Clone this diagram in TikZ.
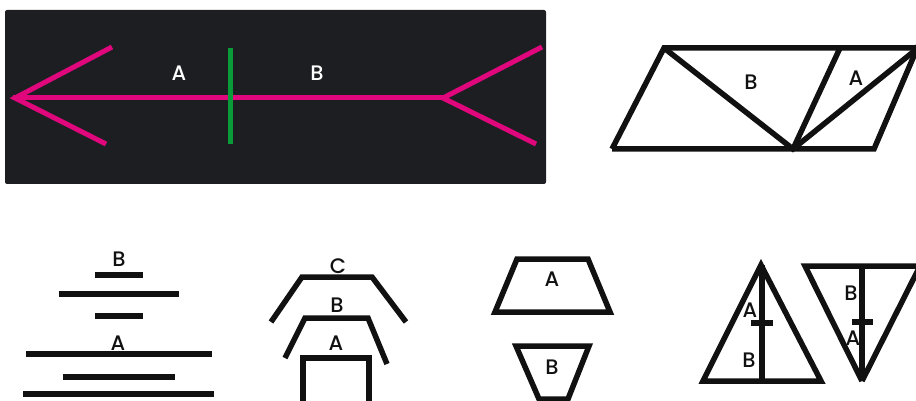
\documentclass[tikz,border=0pt]{standalone}
\usepackage{fontspec}
\setmainfont{Poppins}[UprightFont=* Medium]
\definecolor{darkbg}{HTML}{1D1E22}
\definecolor{pinkline}{HTML}{E0077D}
\definecolor{greenline}{HTML}{0A9A3A}
\definecolor{inkblack}{HTML}{111111}
\begin{document}
\begin{tikzpicture}[x=1pt,y=-1pt,
  shape line/.style={draw=inkblack,line width=5.5pt,line join=miter},
  pink line/.style={draw=pinkline,line width=5pt},
  lbl/.style={font=\fontsize{21}{21}\selectfont,text=inkblack,inner sep=0pt},
  wlbl/.style={lbl,text=white}]
\useasboundingbox (0,0) rectangle (916,401);
% panel 1
\fill[darkbg,rounded corners=2pt] (5,10) rectangle (546,184);
\draw[pink line] (13,98) -- (443,98);
\draw[pink line,line join=miter] (112,47) -- (15,98) -- (106,144);
\draw[pink line,line join=miter] (542,47) -- (443,98) -- (536,144);
\draw[draw=greenline,line width=5pt] (230,48) -- (230,144);
\node[wlbl] (p1a) at (179,73) {A};
\node[wlbl] (p1b) at (317,73) {B};
% panel 2
\draw[shape line] (612,149) -- (664,48) -- (922,48);
\draw[shape line] (612,149) -- (874,149) -- (919,44);
\draw[shape line] (664,48) -- (793,149) -- (918,48);
\draw[shape line] (840,48) -- (793,149);
\node[lbl] (p2b) at (751,82) {B};
\node[lbl] (p2a) at (856,78) {A};
% panel 3
\draw[shape line] (95,275) -- (143,275);
\draw[shape line] (59,294) -- (179,294);
\draw[shape line] (95,316) -- (143,316);
\draw[shape line] (26,354) -- (212,354);
\draw[shape line] (63,377) -- (175,377);
\draw[shape line] (23,394) -- (214,394);
\node[lbl] (p3b) at (119,259) {B};
\node[lbl] (p3a) at (118,343) {A};
% panel 4
\draw[shape line] (271,322) -- (302,277) -- (372,277) -- (406,322);
\draw[shape line] (285,358) -- (305,318) -- (368,318) -- (387,364);
\draw[shape line] (303,402) -- (303,358) -- (369,358) -- (369,402);
\node[lbl] (p4c) at (338,266) {C};
\node[lbl] (p4b) at (337,305) {B};
\node[lbl] (p4a) at (336,343) {A};
% panel 5
\draw[shape line] (517,259) -- (588,259) -- (610,312) -- (495,312) -- cycle;
\draw[shape line] (516,346) -- (589,346) -- (568,399) -- (539,399) -- cycle;
\node[lbl] (p5a) at (552,279) {A};
\node[lbl] (p5b) at (552,367) {B};
% panel 6
\draw[shape line] (761,265) -- (821,381) -- (703,381) -- cycle;
\draw[shape line] (762,265) -- (762,383);
\draw[shape line] (751,323) -- (773,323);
\draw[shape line] (862,381) -- (805,266) -- (922,266);
\draw[shape line] (862,381) -- (920,266);
\draw[shape line] (862,266) -- (862,381);
\draw[shape line] (852,322) -- (873,322);
\node[lbl] (p6a) at (750,310) {A};
\node[lbl] (p6b) at (749,360) {B};
\node[lbl] (p6b2) at (851,293) {B};
\node[lbl] (p6a2) at (853,338) {A};
\end{tikzpicture}
\end{document}
